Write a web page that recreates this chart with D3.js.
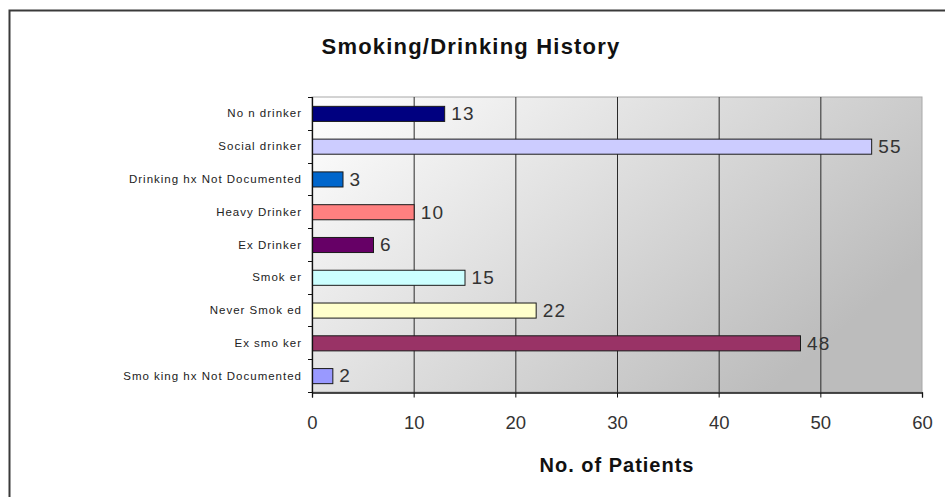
<!DOCTYPE html>
<html>
<head>
<meta charset="utf-8">
<script src="https://cdn.jsdelivr.net/npm/d3@7"></script>
<style>
  html, body { margin: 0; padding: 0; background: #fff; }
  svg { display: block; font-family: "Liberation Sans", Arial, sans-serif; }
</style>
</head>
<body>
<svg id="chart" width="945" height="497"></svg>
<script>
// Categories, top to bottom
const categories = [
  "No n drinker",
  "Social drinker",
  "Drinking hx Not Documented",
  "Heavy Drinker",
  "Ex Drinker",
  "Smok er",
  "Never Smok ed",
  "Ex smo ker",
  "Smo king hx Not Documented"
];
// Number of patients per category
const patients = [13, 55, 3, 10, 6, 15, 22, 48, 2];
// Fill colour per bar
const barColors = ["#000080", "#ccccff", "#0066cc", "#ff8080", "#660066",
                   "#ccffff", "#ffffcc", "#993366", "#9999ff"];
const xTicks = [0, 10, 20, 30, 40, 50, 60];

const title = "Smoking/Drinking History";
const xTitle = "No. of Patients";

const svg = d3.select("#chart");
const plot = { left: 312, right: 922, top: 97, bottom: 392 };

const x = d3.scaleLinear().domain([0, 60]).range([plot.left, plot.right]);
const y = d3.scaleBand().domain(categories).range([plot.top, plot.bottom])
  .paddingInner(0.54).paddingOuter(0.27);

// Outer frame (left and top edges)
svg.append("path")
  .attr("d", `M9.5,497 V10.5 H945`)
  .attr("fill", "none").attr("stroke", "#3a3a3a").attr("stroke-width", 2);

// Plot background gradient
const defs = svg.append("defs");
const grad = defs.append("linearGradient").attr("id", "plotBg")
  .attr("x1", 0).attr("y1", 0).attr("x2", 1).attr("y2", 0.55);
grad.append("stop").attr("offset", 0).attr("stop-color", "#ffffff");
grad.append("stop").attr("offset", 1).attr("stop-color", "#bcbcbc");

svg.append("rect")
  .attr("x", plot.left).attr("y", plot.top)
  .attr("width", plot.right - plot.left).attr("height", plot.bottom - plot.top)
  .attr("fill", "url(#plotBg)")
  .attr("stroke", "#a8a8a8").attr("stroke-width", 1);

// Vertical gridlines
svg.append("g").selectAll("line")
  .data(xTicks.filter(t => t > 0 && t < 60))
  .join("line")
  .attr("x1", d => x(d) + 0.5).attr("x2", d => x(d) + 0.5)
  .attr("y1", plot.top).attr("y2", plot.bottom)
  .attr("stroke", "#2a2a2a").attr("stroke-width", 1);

// Bars
svg.append("g").selectAll("rect")
  .data(categories)
  .join("rect")
  .attr("x", x(0) + 0.5)
  .attr("y", d => y(d) + 0.5)
  .attr("width", (d, i) => x(patients[i]) - x(0))
  .attr("height", y.bandwidth())
  .attr("fill", (d, i) => barColors[i])
  .attr("stroke", "#1a1a1a").attr("stroke-width", 1);

// Value labels
svg.append("g").selectAll("text")
  .data(categories)
  .join("text")
  .attr("x", (d, i) => x(patients[i]) + 7)
  .attr("y", d => y(d) + y.bandwidth() / 2)
  .attr("dy", "0.36em")
  .attr("font-size", 19)
  .attr("letter-spacing", 1.2)
  .attr("fill", "#333")
  .text((d, i) => patients[i]);

// X axis
const xAxis = svg.append("g")
  .attr("transform", `translate(0,${plot.bottom + 0.5})`)
  .call(d3.axisBottom(x).tickValues(xTicks).tickSize(5).tickPadding(18));
xAxis.select(".domain").attr("stroke", "#111").attr("stroke-width", 1.3);
xAxis.selectAll(".tick line").attr("stroke", "#111");
xAxis.selectAll(".tick text")
  .attr("font-family", "Liberation Sans, Arial, sans-serif")
  .attr("font-size", 18.5).attr("fill", "#333");

// Y axis: ticks between categories
const boundaries = d3.range(categories.length + 1)
  .map(i => plot.top + i * y.step());
svg.append("line")
  .attr("x1", plot.left + 0.5).attr("x2", plot.left + 0.5)
  .attr("y1", plot.top).attr("y2", plot.bottom + 1)
  .attr("stroke", "#111").attr("stroke-width", 1.3);
svg.append("g").selectAll("line")
  .data(boundaries)
  .join("line")
  .attr("x1", plot.left - 4).attr("x2", plot.left)
  .attr("y1", d => Math.round(d) + 0.5).attr("y2", d => Math.round(d) + 0.5)
  .attr("stroke", "#111");

// Category labels
svg.append("g").selectAll("text")
  .data(categories)
  .join("text")
  .attr("x", plot.left - 10)
  .attr("y", d => y(d) + y.bandwidth() / 2)
  .attr("dy", "0.35em")
  .attr("text-anchor", "end")
  .attr("font-size", 11.5)
  .attr("letter-spacing", 1.0)
  .attr("fill", "#222")
  .text(d => d);

// Title
svg.append("text")
  .attr("x", 471).attr("y", 54)
  .attr("text-anchor", "middle")
  .attr("font-size", 22).attr("font-weight", "bold")
  .attr("letter-spacing", 1.2)
  .attr("fill", "#111")
  .text(title);

// X axis title
svg.append("text")
  .attr("x", (plot.left + plot.right) / 2).attr("y", 472)
  .attr("text-anchor", "middle")
  .attr("font-size", 20).attr("font-weight", "bold")
  .attr("letter-spacing", 1.0)
  .attr("fill", "#111")
  .text(xTitle);
</script>
</body>
</html>
